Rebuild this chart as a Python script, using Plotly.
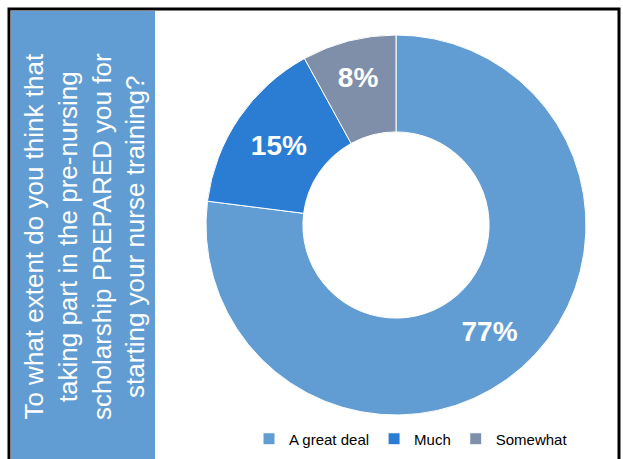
import plotly.graph_objects as go

categories = ["A great deal", "Much", "Somewhat"]
values = [77, 15, 8]
colors = ["#619DD2", "#2B7CD3", "#7F8FA9"]
question_lines = [
    "To what extent do you think that",
    "taking part in the pre-nursing",
    "scholarship PREPARED you for",
    "starting your nurse training?",
]

W, H = 623, 459

fig = go.Figure()
fig.add_trace(go.Pie(
    labels=categories,
    values=values,
    hole=0.49,
    sort=False,
    direction="clockwise",
    rotation=0,
    marker=dict(colors=colors, line=dict(color="white", width=1)),
    texttemplate="%{value}%",
    textposition="inside",
    insidetextorientation="horizontal",
    textfont=dict(family="Arial, Liberation Sans", size=28, color="white", weight="bold"),
    domain=dict(x=[(396 - 190) / W, (396 + 190) / W], y=[1 - (225 + 190) / H, 1 - (225 - 190) / H]),
    hoverinfo="label+percent",
))

fig.update_layout(
    width=W, height=H,
    margin=dict(l=0, r=0, t=0, b=0),
    paper_bgcolor="white",
    plot_bgcolor="white",
    showlegend=True,
    legend=dict(
        orientation="h",
        x=411 / W, xanchor="center",
        y=1 - 439 / H, yanchor="middle",
        font=dict(family="Arial, Liberation Sans", size=15, color="black"),
        itemwidth=30,
        traceorder="normal",
    ),
    shapes=[
        dict(type="rect", xref="paper", yref="paper",
             x0=9 / W, x1=619 / W, y0=-0.05, y1=1 - 9 / H,
             line=dict(color="black", width=3), fillcolor="rgba(0,0,0,0)", layer="above"),
        dict(type="rect", xref="paper", yref="paper",
             x0=11 / W, x1=155 / W, y0=-0.05, y1=1 - 11 / H,
             line=dict(width=0), fillcolor="#619DD2", layer="below"),
    ],
    annotations=[
        dict(
            text="<br>".join(question_lines),
            xref="paper", yref="paper",
            x=84 / W, y=1 - 237 / H,
            xanchor="center", yanchor="middle",
            textangle=-90,
            showarrow=False,
            align="center",
            font=dict(family="Arial, Liberation Sans", size=26, color="white"),
        )
    ],
)

fig.write_html(
    "out.html",
    config={"displayModeBar": False},
    post_script="document.body.style.margin='0';document.body.style.overflow='hidden';",
)
